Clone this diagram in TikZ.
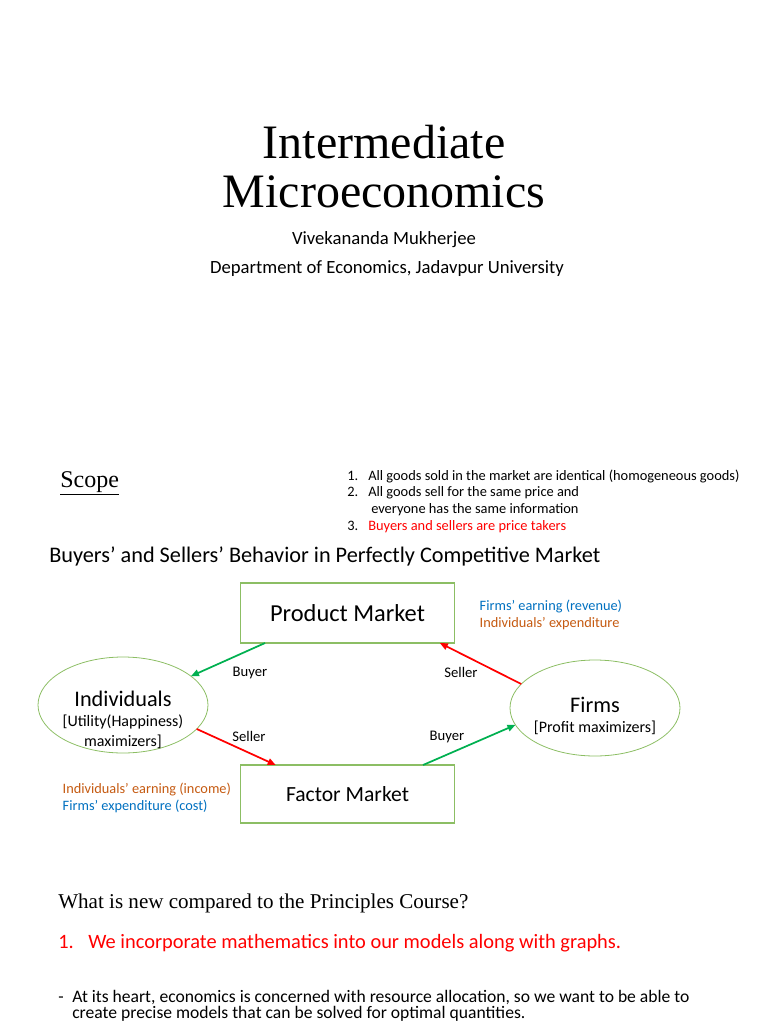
\documentclass[tikz,border=0pt]{standalone}
\usepackage{fontspec}
\setmainfont{Carlito}
\newfontfamily\serif{Liberation Serif}
\usepackage{xcolor}
\usetikzlibrary{shapes.geometric, arrows.meta, positioning}
\definecolor{boxgreen}{RGB}{140, 190, 100}
\definecolor{arrgreen}{RGB}{0, 176, 80}
\definecolor{arrred}{RGB}{255, 0, 0}
\definecolor{txtblue}{RGB}{0, 112, 192}
\definecolor{txtorange}{RGB}{197, 90, 17}
\definecolor{txtred}{RGB}{255, 0, 0}

\begin{document}
\begin{tikzpicture}[x=0.75pt, y=-0.75pt,
    market/.style={rectangle, draw=boxgreen, line width=0.8pt, outer sep=0pt,
        minimum width=161pt, align=center},
    agent/.style={ellipse, draw=boxgreen, line width=0.6pt, outer sep=0pt,
        minimum width=127.5pt, minimum height=72pt, inner sep=0pt},
    agenttext/.style={align=center, font=\fontsize{12}{15}\selectfont},
    flow/.style={-{Triangle[length=6pt, width=5pt]}, line width=1.3pt},
    lbl/.style={font=\fontsize{11}{13}\selectfont},
    note/.style={anchor=west, font=\fontsize{10.75}{13}\selectfont, align=left},
    line/.style={anchor=west, inner sep=0pt}
]
\useasboundingbox (0,0) rectangle (768,1024);

% Title block
\node[font=\serif\fontsize{36}{40}\selectfont] (title1) at (384,142) {Intermediate};
\node[font=\serif\fontsize{36}{40}\selectfont] (title2) at (384,192) {Microeconomics};
\node[font=\fontsize{14}{17}\selectfont] (author) at (384,240) {Vivekananda Mukherjee};
\node[font=\fontsize{14}{17}\selectfont] (dept) at (387,269) {Department of Economics, Jadavpur University};

% Scope and assumptions
\node[line, font=\serif\fontsize{18}{20}\selectfont] (scope) at (60,483) {\underline{Scope}};
\node[line, font=\fontsize{10.8}{13}\selectfont] (a1) at (347,476) {\makebox[15.75pt][l]{1.}All goods sold in the market are identical (homogeneous goods)};
\node[line, font=\fontsize{10.8}{13}\selectfont] (a2) at (347,493) {\makebox[15.75pt][l]{2.}All goods sell for the same price and};
\node[line, font=\fontsize{10.8}{13}\selectfont] (a2b) at (371,510) {everyone has the same information};
\node[line, font=\fontsize{10.8}{13}\selectfont] (a3) at (347,527) {\makebox[15.75pt][l]{3.}\textcolor{txtred}{Buyers and sellers are price takers}};

\node[line, font=\fontsize{16.7}{19}\selectfont] (heading) at (49,556) {Buyers’ and Sellers’ Behavior in Perfectly Competitive Market};

% Circular flow
\node[market, minimum height=45pt, font=\fontsize{18.3}{20}\selectfont] (pm) at (347.5,613) {Product Market};
\node[market, minimum height=43.5pt, font=\fontsize{16.2}{18}\selectfont] (fm) at (347.5,794) {Factor Market};
\node[agent, label={[agenttext, yshift=-11.5pt]center:{\fontsize{16.7}{15}\selectfont Individuals\\
    \fontsize{12}{15}\selectfont [Utility(Happiness)\\ maximizers]}}] (ind) at (123,705) {};
\node[agent, label={[agenttext, yshift=-6pt]center:{\fontsize{16.7}{15}\selectfont Firms\\
    \fontsize{12}{15}\selectfont [Profit maximizers]}}] (firm) at (595,708) {};

\draw[flow, arrgreen] (pm.200) -- (ind.23);
\draw[flow, arrred] (firm.162) -- (pm.342);
\draw[flow, arrred] (ind.342) -- (fm.158);
\draw[flow, arrgreen] (fm.21) -- (firm.192);

\node[lbl] (buy1) at (250,673) {Buyer};
\node[lbl] (sell1) at (461,672) {Seller};
\node[lbl] (sell2) at (249,736) {Seller};
\node[lbl] (buy2) at (447,737) {Buyer};

\node[note] (rev) at (475,615) {\textcolor{txtblue}{Firms’ earning (revenue)}\\
    \textcolor{txtorange}{Individuals’ expenditure}};
\node[note] (inc) at (58,798) {\textcolor{txtorange}{Individuals’ earning (income)}\\
    \textcolor{txtblue}{Firms’ expenditure (cost)}};

% What is new
\node[line, font=\serif\fontsize{15.8}{18}\selectfont] (new) at (58,903) {What is new compared to the Principles Course?};
\node[line, font=\fontsize{15.3}{18}\selectfont, text=txtred] (p1) at (58,943) {\makebox[22.5pt][l]{1.}We incorporate mathematics into our models along with graphs.};
\node[line, font=\fontsize{13.2}{15}\selectfont] (p2) at (58,998) {\makebox[10.5pt][l]{-}At its heart, economics is concerned with resource allocation, so we want to be able to};
\node[line, font=\fontsize{13.2}{15}\selectfont] (p2b) at (72,1014) {create precise models that can be solved for optimal quantities.};
\end{tikzpicture}
\end{document}
